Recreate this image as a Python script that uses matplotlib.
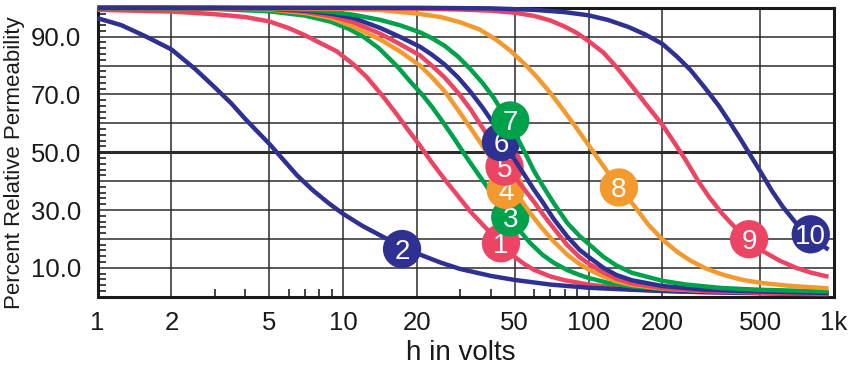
import matplotlib.pyplot as plt
from matplotlib.ticker import FixedLocator, NullFormatter

plt.rcParams['font.family'] = ['Liberation Sans', 'DejaVu Sans']

NAVY = '#2E3192'
RED = '#EC4463'
GREEN = '#00A14B'
ORANGE = '#F39A2F'

# permeability curves, h in volts vs percent of initial permeability
h_1 = [1, 2, 3, 4, 5, 6, 7, 8, 9.4, 11, 12.5, 14.5, 16.6, 18.5, 20.5, 23, 26, 29, 33, 37, 41, 45, 50,
       55, 60, 70, 80, 100, 130, 170, 250, 400, 650, 950]
mu_1 = [99.3, 98.7, 97.8, 96.8, 95.3, 93, 90.5, 88, 85, 80.5, 76, 69.5, 63, 57.5, 52.5, 46.5, 40.5, 35.5,
        29.5, 25, 21, 17.5, 13.8, 11.2, 9.3, 7, 5.7, 4.2, 3.1, 2.3, 1.7, 1.3, 1.0, 0.9]

h_2 = [1, 1.25, 1.58, 2, 2.5, 3, 3.5, 4, 4.5, 5, 5.7, 6.5, 7.5, 8.7, 10, 12, 14.2, 17, 20, 25, 30, 40,
       50, 70, 100, 150, 200, 300, 500, 950]
mu_2 = [96.4, 94, 90, 85.6, 78.8, 72.5, 67, 61.5, 57, 53, 47.5, 42, 37, 32.5, 28.7, 24.5, 21.2, 17.8, 15,
        11.8, 9.6, 7.2, 5.8, 4.2, 3.1, 2.4, 2.0, 1.6, 1.3, 1.0]

h_3 = [1, 3, 5, 7, 8.9, 10.5, 12.1, 14, 16.6, 19, 21, 23, 25.5, 28.5, 32, 35.5, 39, 43, 47, 52, 58, 65,
       72, 82, 92, 100, 120, 150, 200, 300, 500, 950]
mu_3 = [99.9, 99.6, 98.8, 97.3, 95.2, 92.8, 90, 86, 79.8, 74, 70, 65.8, 60.5, 54.5, 48, 42.5, 37.5, 32.5,
        28, 23.2, 18.5, 14.5, 11.8, 9.2, 7.5, 6.5, 4.8, 3.6, 2.7, 2.1, 1.8, 1.5]

h_4 = [1, 3, 5, 7, 8.9, 11, 14.2, 17, 20.6, 23, 26, 29.5, 33, 36.5, 40, 44, 48, 53, 59, 65, 72, 82, 92,
       100, 115, 130, 150, 200, 300, 500, 950]
mu_4 = [100, 99.9, 99.4, 98.2, 96.5, 93.5, 89, 85, 80, 76, 71, 64.5, 58.5, 53, 48, 43, 38.5, 33.5, 28,
        23.5, 19.2, 14.5, 11.3, 9.5, 7, 5.3, 4.1, 2.8, 2.0, 1.6, 1.2]

h_5 = [1, 3, 5, 7, 8.9, 11, 14.2, 17, 20.6, 23, 26, 29.5, 33, 37, 41, 45, 50, 55, 60, 65, 72, 82, 92,
       100, 115, 130, 150, 200, 300, 500, 950]
mu_5 = [100, 99.9, 99.6, 98.6, 97.2, 95, 91, 87.5, 83.5, 80, 75.8, 70.5, 65, 58.5, 52.5, 47, 41.5, 37,
        32.8, 28.7, 23.8, 17.8, 13.7, 11.5, 8.4, 6.2, 4.6, 3.0, 2.0, 1.4, 1.0]

h_6 = [1, 3, 5, 7, 8.9, 11, 14.2, 17, 20.6, 23, 26, 29.5, 33, 37, 41, 45, 50, 55, 60, 65, 72, 82, 92,
       100, 115, 130, 150, 200, 300, 500, 950]
mu_6 = [100, 99.9, 99.7, 99.0, 98, 96.5, 93, 90, 86.5, 83.8, 80.3, 75.8, 71, 65.5, 60, 54, 47.5, 42, 37,
        32.8, 27, 20.8, 16.2, 13.8, 10, 7.5, 5.7, 3.7, 2.4, 1.8, 1.3]

h_7 = [1, 3, 5, 7, 8.9, 11, 14.2, 17, 20.6, 23, 26, 29.5, 33, 37, 41, 45, 50, 55, 60, 65, 72, 82, 92,
       100, 115, 130, 150, 200, 250, 350, 500, 950]
mu_7 = [100, 100, 99.8, 99.3, 98.6, 97.6, 95.8, 94, 91.5, 89.5, 86.8, 83, 78.8, 74, 69, 63.5, 56.8, 50,
        43.5, 38.5, 32.5, 25.5, 21, 18.3, 13.8, 10.8, 8.3, 5.5, 4.2, 3.0, 2.4, 1.8]

h_8 = [1, 5, 10, 14.2, 20, 25, 30, 36, 42, 48, 55, 62, 70, 80, 90, 100, 110, 120, 136, 155, 175, 200,
       230, 260, 300, 350, 420, 500, 650, 800, 950]
mu_8 = [100, 99.9, 99.6, 99.2, 98, 96.8, 95, 92.5, 89, 85.2, 80.5, 75.8, 70.5, 64, 58, 52.5, 47.5, 43,
        37, 31, 25, 19.8, 15.5, 12.5, 9.8, 7.7, 5.9, 4.8, 3.8, 3.3, 2.9]

h_9 = [1, 10, 20, 30, 40, 50, 60, 70, 80, 90, 100, 115, 130, 150, 170, 200, 225, 250, 280, 310, 350,
       400, 450, 520, 600, 700, 800, 950]
mu_9 = [100, 99.9, 99.7, 99.4, 99, 98.3, 97.2, 95.6, 93.5, 91.2, 88.5, 84.5, 79.5, 73, 67, 59.5, 53, 47,
        40, 34.5, 28.8, 23.5, 19.5, 15.5, 12.5, 10, 8.4, 6.9]

h_10 = [1, 20, 40, 60, 80, 100, 120, 145, 170, 200, 230, 260, 300, 340, 380, 420, 460, 500, 560, 620,
        700, 800, 950]
mu_10 = [100, 100, 99.8, 99.3, 98.5, 97.4, 95.8, 93.4, 90.8, 87.5, 83, 78.5, 72, 66, 59.8, 54, 48.5,
         43.5, 36.5, 31, 25.5, 20.5, 16.3]

# numbered tags placed on the curves
tag_h = [44, 17.4, 48, 46, 45.5, 44, 48, 133, 451, 804]
tag_mu = [18.5, 16.5, 27.5, 37, 45, 53.5, 61, 37.8, 19.9, 21.6]

x_ticks = [1, 2, 5, 10, 20, 50, 100, 200, 500, 1000]
x_tick_labels = ['1', '2', '5', '10', '20', '50', '100', '200', '500', '1k']
y_ticks = [10, 30, 50, 70, 90]

curves = [
    (h_1, mu_1, RED),
    (h_2, mu_2, NAVY),
    (h_3, mu_3, GREEN),
    (h_4, mu_4, ORANGE),
    (h_5, mu_5, RED),
    (h_6, mu_6, NAVY),
    (h_7, mu_7, GREEN),
    (h_8, mu_8, ORANGE),
    (h_9, mu_9, RED),
    (h_10, mu_10, NAVY),
]

fig = plt.figure(figsize=(8.58, 3.67), dpi=100)
ax = fig.add_axes([97.5 / 858, 1 - 296.7 / 367, (834 - 97.5) / 858, (296.7 - 7.8) / 367])
ax.set_xscale('log')
ax.set_xlim(1, 1000)
ax.set_ylim(0, 100)

# grid
for v in [2, 5, 10, 20, 50, 100, 200, 500]:
    ax.axvline(v, color='#2b2b2b', lw=1.1, zorder=1)
for v in range(10, 100, 10):
    ax.axhline(v, color='#2b2b2b', lw=2.2 if v == 50 else 1.1, zorder=1)

for i, (h, mu, col) in enumerate(curves):
    z = 3 + 2 * i
    ax.plot(h, mu, color=col, lw=3.2, zorder=z, clip_on=False,
            solid_capstyle='butt', solid_joinstyle='round')
    ax.scatter([tag_h[i]], [tag_mu[i]], s=760, color=col, edgecolors='none', zorder=z + 1, clip_on=False)
    ax.text(tag_h[i], tag_mu[i], str(i + 1), color='white', fontsize=20,
            ha='center', va='center_baseline', zorder=z + 1.5)

ax.set_xticks(x_ticks)
ax.set_xticklabels(x_tick_labels)
ax.xaxis.set_minor_locator(FixedLocator([3, 4, 6, 7, 8, 9, 30, 40, 60, 70, 80, 90]))
ax.xaxis.set_minor_formatter(NullFormatter())
ax.set_yticks(y_ticks)
ax.set_yticklabels([f'{v:.1f}' for v in y_ticks])
ax.yaxis.set_minor_locator(FixedLocator([v for v in range(2, 100, 2) if v % 10]))

ax.tick_params(axis='both', which='major', length=0, labelsize=18.5, colors='#1a1a1a')
ax.tick_params(axis='x', which='major', pad=10)
ax.tick_params(axis='y', which='major', pad=12)
ax.tick_params(axis='both', which='minor', direction='in', length=6, width=1.2, color='#222222')

for s in ax.spines.values():
    s.set_linewidth(2.2)
    s.set_color('#1a1a1a')
    s.set_zorder(2.5)

fig.text(461 / 858, 1 - 360 / 367, 'h in volts', fontsize=20, ha='center', va='baseline', color='#1a1a1a')
fig.text(15 / 858, 1 - 163 / 367, 'Percent Relative Permeability', fontsize=16, rotation=90,
         ha='center', va='center', color='#1a1a1a')

fig.savefig('out.png', dpi=100, facecolor='white')
